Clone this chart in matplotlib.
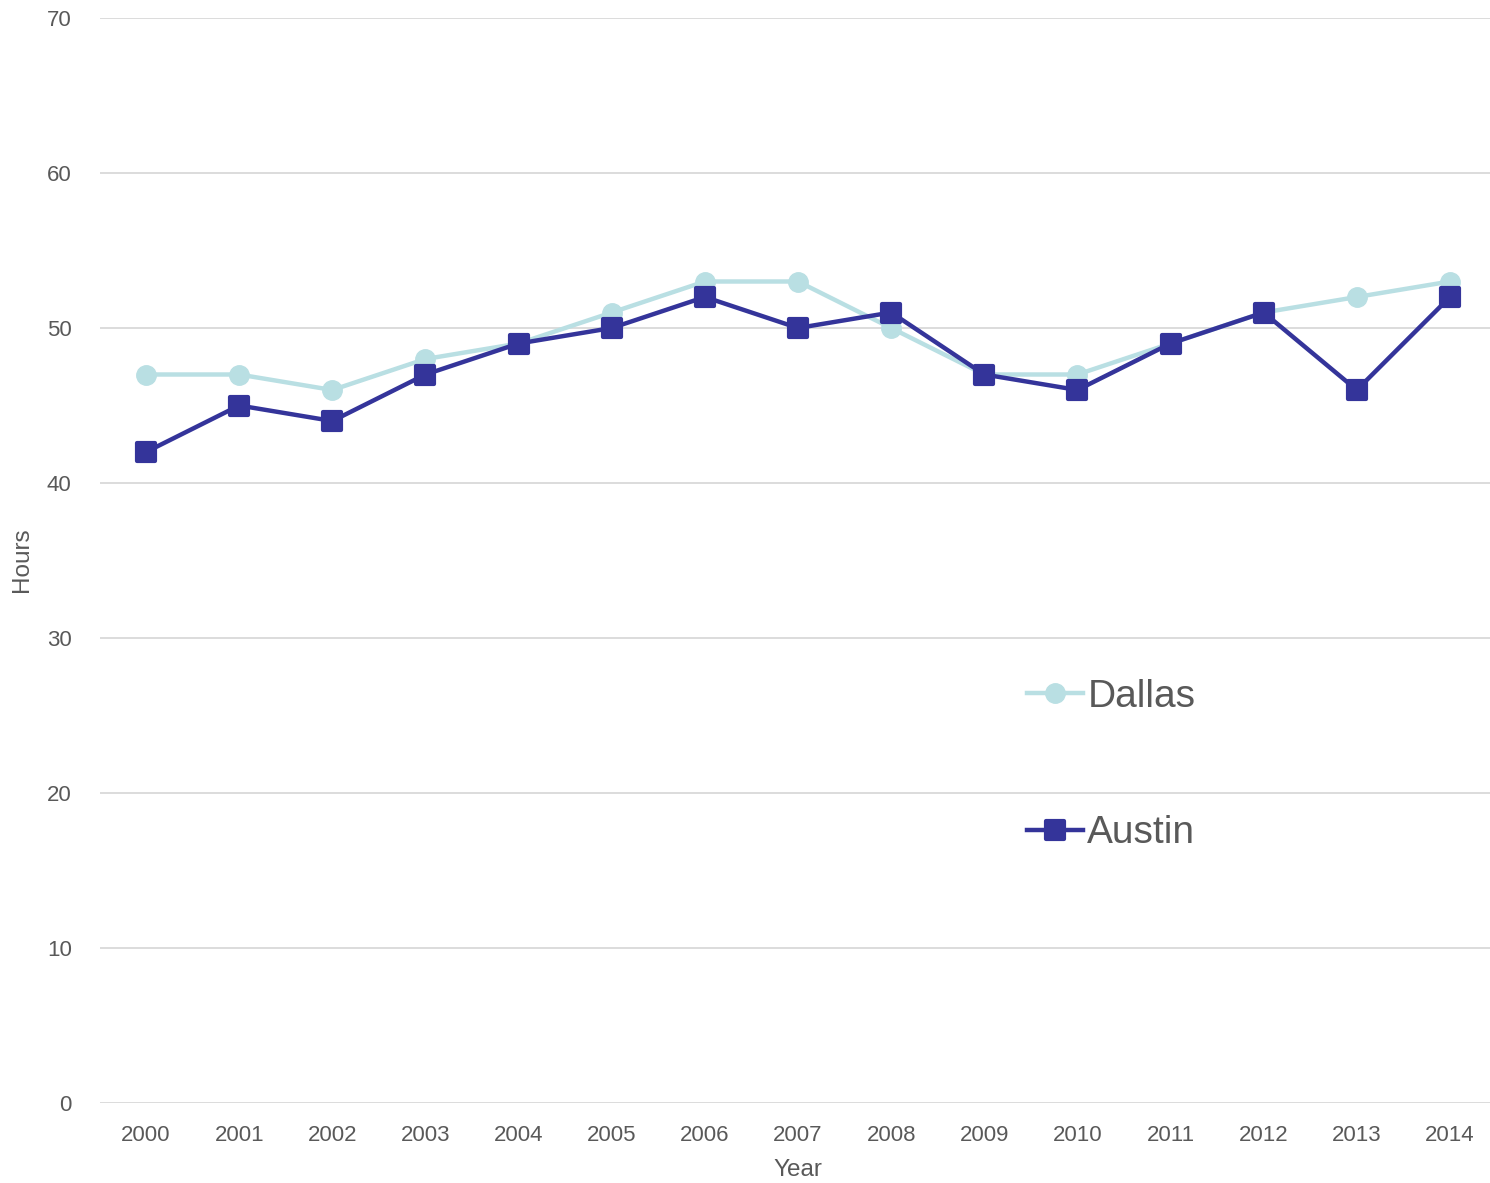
import matplotlib.pyplot as plt
from matplotlib.markers import MarkerStyle

plt.rcParams['font.family'] = ['Liberation Sans', 'DejaVu Sans']

years = ['2000', '2001', '2002', '2003', '2004', '2005', '2006', '2007',
         '2008', '2009', '2010', '2011', '2012', '2013', '2014']
dallas = [47, 47, 46, 48, 49, 51, 53, 53, 50, 47, 47, 49, 51, 52, 53]
austin = [42, 45, 44, 47, 49, 50, 52, 50, 51, 47, 46, 49, 51, 46, 52]

W, H = 1490, 1183
fig = plt.figure(figsize=(W / 100, H / 100), dpi=100)
ax = fig.add_axes([99.5 / W, 1 - 1103 / H, 1397 / W, 1085 / H])

x = range(len(years))
ax.plot(x, dallas, color='#b9dfe3', lw=3.2, marker='o', ms=14,
        mec='#b9dfe3', label='Dallas', zorder=3)
sq = MarkerStyle('s', joinstyle='round')
ax.plot(x, austin, color='#34349a', lw=3.2, marker=sq, ms=12.5, mew=3,
        mec='#34349a', label='Austin', zorder=4)

ax.set_xlim(-0.5, len(years) - 0.5)
ax.set_ylim(0, 70)
ax.set_yticks(range(0, 71, 10))
ax.set_xticks(list(x))
ax.set_xticklabels(years)
ax.grid(axis='y', color='#d9d9d9', lw=1.3)
ax.set_axisbelow(True)
for s in ax.spines.values():
    s.set_visible(False)
ax.tick_params(length=0, labelsize=16, labelcolor='#595959')
ax.tick_params(axis='y', pad=20)
ax.tick_params(axis='x', pad=15.5)

ax.set_xlabel('Year', fontsize=17.5, color='#595959', labelpad=10)
fig.text(22 / W, 1 - 560 / H, 'Hours', rotation=90, fontsize=17.5,
         color='#595959', ha='center', va='center')

fig.legend(loc='upper left', bbox_to_anchor=(1027 / W, 1 - 679 / H),
           bbox_transform=fig.transFigure, frameon=False, fontsize=28,
           labelcolor='#595959', borderpad=0, borderaxespad=0,
           handlelength=1.45, handletextpad=0.1, labelspacing=2.58)

fig.savefig('out.png', dpi=100)
